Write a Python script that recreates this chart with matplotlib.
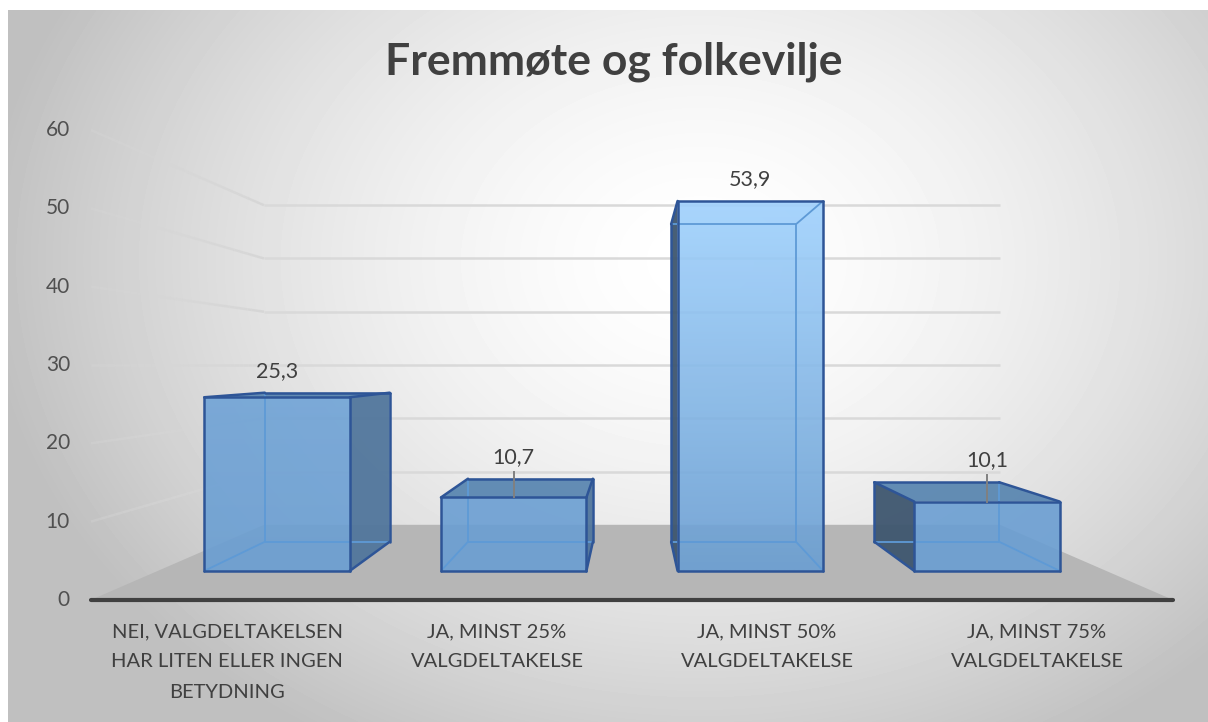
import numpy as np
import matplotlib.pyplot as plt
from matplotlib.patches import Polygon
from matplotlib.collections import LineCollection
from matplotlib.colors import to_rgb

plt.rcParams['font.family'] = ['Lato', 'DejaVu Sans']

title = "Fremmøte og folkevilje"
categories = [
    "NEI, VALGDELTAKELSEN\nHAR LITEN ELLER INGEN\nBETYDNING",
    "JA, MINST 25%\nVALGDELTAKELSE",
    "JA, MINST 50%\nVALGDELTAKELSE",
    "JA, MINST 75%\nVALGDELTAKELSE",
]
values = [25.3, 10.7, 53.9, 10.1]
value_labels = ["25,3", "10,7", "53,9", "10,1"]
y_ticks = [0, 10, 20, 30, 40, 50, 60]

# simple perspective "camera" (pixel space of the 1208x722 picture)
W, H = 1208, 722
VPX, VPY = 632, 365      # vanishing point
EYE = 30                 # value at eye height
PX_PER_UNIT = 7.83       # pixels per value unit on the front plane
K = 0.47                 # depth foreshortening (back wall at d=1)
SPACING = 270
HALF_W = 83
D0, D1 = 0.3, 0.7
FLOOR_HALF = 541


def proj(x, v, d):
    s = 1.0 / (1.0 + K * d)
    return VPX + x * s, VPY - (v - EYE) * PX_PER_UNIT * s


fig = plt.figure(figsize=(W / 100, H / 100), dpi=100)
fig.patch.set_facecolor('white')
ax = fig.add_axes([0, 0, 1, 1])
ax.axis('off')

# background radial gradient
yy, xx = np.mgrid[10:H, 8:W]
r = np.sqrt(((xx - 700) / 720.0) ** 2 + ((yy - 260) / 560.0) ** 2)
bg = 1 - 0.25 * np.clip(r, 0, 1) ** 1.6
ax.imshow(bg, extent=(8, W, H, 10), cmap='gray', vmin=0, vmax=1,
          aspect='auto', zorder=0, interpolation='bilinear')

# floor
floor = [proj(-FLOOR_HALF, 0, 0), proj(FLOOR_HALF, 0, 0),
         proj(FLOOR_HALF, 0, 1), proj(-FLOOR_HALF, 0, 1)]
ax.add_patch(Polygon(floor, closed=True, facecolor='#b6b6b6', edgecolor='none', zorder=1))

# gridlines: back wall + fading left wall
for t in y_ticks:
    if t == 0:
        continue
    bx0, by = proj(-FLOOR_HALF, t, 1)
    bx1, _ = proj(FLOOR_HALF, t, 1)
    ax.plot([bx0, bx1], [by, by], color='#d9d9d9', lw=1.8, zorder=1.5,
            solid_capstyle='butt')
    ds = np.linspace(0, 1, 31)
    pts = [proj(-FLOOR_HALF, t, d) for d in ds]
    segs = [[pts[i], pts[i + 1]] for i in range(len(pts) - 1)]
    cols = [(0.84, 0.84, 0.84, 0.35 + 0.65 * ds[i]) for i in range(len(segs))]
    ax.add_collection(LineCollection(segs, colors=cols, linewidths=1.8, zorder=1.5))

# y tick labels
for t in y_ticks:
    _, ty = proj(-FLOOR_HALF, t, 0)
    ax.text(70, ty, str(t), ha='right', va='center', fontsize=15, color='#505050', zorder=5)

# axis line
ax0, ay = proj(-FLOOR_HALF, 0, 0)
ax1, _ = proj(FLOOR_HALF, 0, 0)
ax.plot([ax0, ax1], [ay, ay], color='#404040', lw=3, zorder=2, solid_capstyle='round')

edge_dark = '#2e5597'
edge_light = '#5e9ad6'
base_col = np.array(to_rgb('#6a9ed2'))
light_col = np.array(to_rgb('#9fd1fd'))
vmax = max(values)

for i, v in enumerate(values):
    xc = (i - 1.5) * SPACING
    x0, x1 = xc - HALF_W, xc + HALF_W
    P = {}
    for xi, xv in ((0, x0), (1, x1)):
        for vi, vv in ((0, 0.0), (1, v)):
            for di, dv in ((0, D0), (1, D1)):
                P[(xi, vi, di)] = proj(xv, vv, dv)
    faces = {
        'front': [(0, 0, 0), (1, 0, 0), (1, 1, 0), (0, 1, 0)],
        'back': [(0, 0, 1), (1, 0, 1), (1, 1, 1), (0, 1, 1)],
        'left': [(0, 0, 0), (0, 0, 1), (0, 1, 1), (0, 1, 0)],
        'right': [(1, 0, 0), (1, 0, 1), (1, 1, 1), (1, 1, 0)],
        'top': [(0, 1, 0), (1, 1, 0), (1, 1, 1), (0, 1, 1)],
        'bottom': [(0, 0, 0), (1, 0, 0), (1, 0, 1), (0, 0, 1)],
    }
    visible = {'front'}
    if x0 > 0:
        visible.add('left')
    if x1 < 0:
        visible.add('right')
    if v < EYE:
        visible.add('top')

    edges = {}
    for name, c in faces.items():
        for k in range(4):
            e = frozenset((c[k], c[(k + 1) % 4]))
            edges.setdefault(e, set()).add(name)

    z = 3 + i * 0.1
    side_cols = {'left': '#3e566f', 'right': '#51769c', 'top': '#5b87b1'}
    for name in ('left', 'right', 'top'):
        if name in visible:
            ax.add_patch(Polygon([P[c] for c in faces[name]], closed=True,
                                 facecolor=side_cols[name], edgecolor='none',
                                 alpha=0.95, zorder=z))

    # front face with vertical gradient
    fx0, fyb = P[(0, 0, 0)]
    fx1, fyt = P[(1, 1, 0)]
    top_col = base_col + (light_col - base_col) * (v / vmax) ** 3
    grad = np.linspace(0, 1, 100)[:, None, None]
    img = top_col * (1 - grad) + base_col * grad
    img = np.repeat(img, 2, axis=1)
    front_poly = Polygon([P[c] for c in faces['front']], closed=True,
                         facecolor='none', edgecolor='none')
    ax.add_patch(front_poly)
    im = ax.imshow(img, extent=(fx0, fx1, fyb, fyt), aspect='auto',
                   alpha=0.9, zorder=z + 0.01, interpolation='bilinear')
    im.set_clip_path(front_poly)

    hidden, shown = [], []
    for e, fs in edges.items():
        a, b = tuple(e)
        seg = [P[a], P[b]]
        if fs & visible:
            shown.append(seg)
        else:
            hidden.append(seg)
    ax.add_collection(LineCollection(hidden, colors=edge_light, linewidths=1.3,
                                     zorder=z + 0.02))
    ax.add_collection(LineCollection(shown, colors=edge_dark, linewidths=1.8,
                                     zorder=z + 0.03, capstyle='round'))

    # value label (with leader line when it floats above the top face)
    cx, front_top = proj(xc, v, D0)
    _, back_top = proj(xc, v, D1)
    ly = min(front_top, back_top) - 22
    ax.text(cx, ly, value_labels[i], ha='center', va='center', fontsize=15.5,
            color='#404040', zorder=6)
    if front_top - (ly + 13) > 14:
        ax.plot([cx, cx], [ly + 15, front_top], color='#808080', lw=1.4, zorder=6)

    # category label on the front plane
    lx, _ = proj(xc, 0, 0)
    ax.text(lx, 623, categories[i], ha='center', va='top', fontsize=14.5,
            color='#404040', linespacing=1.95, zorder=5)

ax.text(614, 62, title, ha='center', va='center', fontsize=32,
        fontweight='bold', color='#404040', zorder=5)

ax.set_xlim(0, W)
ax.set_ylim(H, 0)
fig.savefig('out.png', dpi=100)
